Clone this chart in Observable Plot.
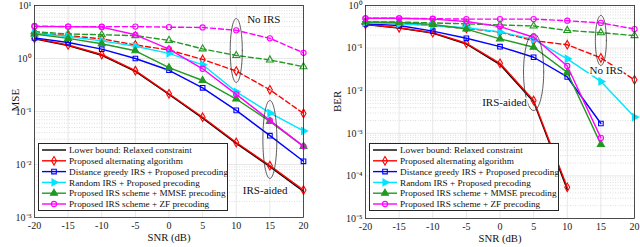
<!DOCTYPE html>
<html><head><meta charset="utf-8">
<script src="https://cdn.jsdelivr.net/npm/d3@7"></script>
<script src="https://cdn.jsdelivr.net/npm/@observablehq/plot@0.6"></script>
<style>
body{margin:0;background:#fff;font-family:"Liberation Serif",serif;}
#wrap{display:flex;width:640px;height:247px;}
.panel{position:relative;width:320px;height:247px;}
.legend{position:absolute;background:#fff;border:1px solid #262626;box-sizing:border-box;}
svg text{font-family:"Liberation Serif",serif;}
</style></head>
<body><div id="wrap"></div>
<script>
// ---------------- data ----------------
const snr = [-20, -15, -10, -5, 0, 5, 10, 15, 20];
const legendLabels = [
  "Lower bound: Relaxed constraint",
  "Proposed alternating algorithm",
  "Distance greedy IRS + Proposed precoding",
  "Random IRS + Proposed precoding",
  "Proposed IRS scheme + MMSE precoding",
  "Proposed IRS scheme + ZF precoding"
];
// MSE panel
const mseLower   = [2.35, 1.75, 1.15, 0.57, 0.21, 0.075, 0.025, 0.0091, 0.0031];
const mseAlt     = [2.4, 1.8, 1.19, 0.59, 0.216, 0.078, 0.026, 0.0095, 0.0033];
const mseGreedy  = [2.45, 2.0, 1.5, 1.0, 0.6, 0.28, 0.105, 0.035, 0.0115];
const mseRandom  = [3.0, 2.6, 2.15, 1.7, 1.25, 0.76, 0.235, 0.094, 0.043];
const mseMmse    = [2.9, 2.4, 1.9, 1.4, 0.67, 0.385, 0.172, 0.065, 0.022];
const mseZf      = [4.0, 4.0, 3.9, 2.8, 1.5, 0.64, 0.21, 0.068, 0.022];
const mseNoAlt   = [3.05, 2.7, 2.35, 1.8, 1.45, 0.96, 0.58, 0.257, 0.092];
const mseNoMmse  = [3.2, 2.9, 2.8, 2.7, 2.2, 1.52, 1.14, 0.94, 0.70];
const mseNoZf    = [4.1, 4.0, 4.0, 4.0, 3.9, 3.85, 3.4, 2.4, 1.28];
// BER panel
const berLower   = [0.355, 0.295, 0.225, 0.125, 0.041, 0.0055, 0.000048];
const berAlt     = [0.36, 0.30, 0.23, 0.13, 0.044, 0.0059, 0.000054];
const berGreedy  = [0.37, 0.34, 0.25, 0.17, 0.108, 0.061, 0.021, 0.0017];
const berRandom  = [0.40, 0.37, 0.34, 0.30, 0.24, 0.16, 0.056, 0.0165, 0.0024];
const berMmse    = [0.41, 0.40, 0.36, 0.28, 0.165, 0.105, 0.027, 0.00055];
const berZf      = [0.50, 0.50, 0.48, 0.42, 0.32, 0.18, 0.038, 0.00078];
const berNoAlt   = [0.41, 0.38, 0.34, 0.29, 0.237, 0.15, 0.12, 0.059, 0.018];
const berNoMmse  = [0.41, 0.41, 0.39, 0.37, 0.35, 0.33, 0.26, 0.23, 0.197];
const berNoZf    = [0.50, 0.50, 0.49, 0.48, 0.48, 0.48, 0.44, 0.39, 0.28];

const mseTicks = [1e-3, 1e-2, 1e-1, 1, 10];
const berTicks = [1e-5, 1e-4, 1e-3, 1e-2, 1e-1, 1];

const colors = {black:"#000000", red:"#ff0000", blue:"#0000ff", cyan:"#00e5ff", green:"#229922", magenta:"#ff00ff"};
const FONT = '"Liberation Serif",serif';

// ---------------- helpers ----------------
const triRight = {draw(ctx, size){
  const s3 = Math.sqrt(3), y = -Math.sqrt(size/(s3*3));
  ctx.moveTo(-2*y, 0); ctx.lineTo(y, -s3*y); ctx.lineTo(y, s3*y); ctx.closePath();
}};
const rows = vals => vals.map((v,i)=>({x: snr[i], y: v}));
const sup = {"-":"\u207B","0":"\u2070","1":"\u00B9","2":"\u00B2","3":"\u00B3","4":"\u2074","5":"\u2075"};
const fmtPow = v => "10" + String(Math.round(Math.log10(v))).split("").map(c=>sup[c]).join("");

function ellipse(cx, rx, cyLog, ryLog){
  const pts = [];
  for (let i=0;i<=72;i++){ const t = i/72*2*Math.PI; pts.push({x: cx + rx*Math.cos(t), y: Math.pow(10, cyLog + ryLog*Math.sin(t))}); }
  return pts;
}

const styleOf = [
  {color: colors.black, symbol: null, fill: "none"},
  {color: colors.red, symbol: "diamond", fill: "none"},
  {color: colors.blue, symbol: "square", fill: "none"},
  {color: colors.cyan, symbol: triRight, fill: colors.cyan},
  {color: colors.green, symbol: "triangle", fill: colors.green},
  {color: colors.magenta, symbol: "circle", fill: "none"}
];

function seriesMarks(vals, st, dashed){
  const d = rows(vals);
  const m = [Plot.line(d, {x:"x", y:"y", stroke: st.color, strokeWidth: 1.4, strokeDasharray: dashed ? "5,3" : null})];
  if (st.symbol) m.push(Plot.dot(d, {x:"x", y:"y", symbol: st.symbol, r: 2.6, stroke: st.color, strokeWidth: 1.1, fill: dashed ? "none" : st.fill}));
  return m;
}

function panel(cfg){
  const [lo, hi] = cfg.ydomain;
  const minor = [];
  for (let e=Math.round(Math.log10(lo)); e<Math.round(Math.log10(hi)); e++) for (let k=2;k<=9;k++) minor.push(k*Math.pow(10,e));
  const marks = [
    Plot.ruleY(minor, {stroke:"#c8c8c8", strokeWidth:0.6, strokeDasharray:"1,1.5"}),
    Plot.ruleY(cfg.yticks, {stroke:"#dcdcdc", strokeWidth:0.7}),
    Plot.ruleX(snr, {stroke:"#dcdcdc", strokeWidth:0.7}),
    Plot.axisX({ticks: snr, tickSize: 0, tickPadding: 4, label: null, tickFormat: d => String(d), fontSize: 10}),
    Plot.axisY({ticks: cfg.yticks, tickSize: 0, tickPadding: 3, label: null, tickFormat: fmtPow, fontSize: 10})
  ];
  cfg.noIrs.forEach(([vals, idx]) => marks.push(...seriesMarks(vals, styleOf[idx], true)));
  cfg.series.forEach((vals, idx) => marks.push(...seriesMarks(vals, styleOf[idx], false)));
  cfg.ellipses.forEach(e => marks.push(Plot.line(ellipse(...e), {x:"x", y:"y", stroke:"#333", strokeWidth:0.8})));
  marks.push(Plot.text(cfg.notes, {x:"x", y:"y", text:"t", fontSize: 11, fill:"#111", stroke:"white", strokeWidth: 3, paintOrder:"stroke"}));
  marks.push(Plot.frame({stroke:"#262626", strokeWidth: 0.8}));
  marks.push(Plot.text([cfg.ylabel], {frameAnchor:"left", dx: cfg.ylabelDx, rotate: -90, fontSize: 11, fill:"#111"}));
  marks.push(Plot.text(["SNR (dB)"], {frameAnchor:"bottom", dy: 23.5, fontSize: 10.7, fill:"#111"}));
  return Plot.plot({
    width: 320, height: 247,
    marginLeft: cfg.ml, marginRight: cfg.mr, marginTop: 5, marginBottom: cfg.mb,
    x: {domain: [-20, 20]},
    y: {type: "log", domain: cfg.ydomain},
    style: {fontFamily: FONT, fontSize: "10px", color: "#222", background: "transparent", overflow: "visible"},
    marks
  });
}

function legend(left, top){
  const W = 190, H = 68;
  const div = document.createElement("div");
  div.className = "legend";
  div.style.left = left + "px"; div.style.top = top + "px";
  div.style.width = W + "px"; div.style.height = H + "px";
  const svg = d3.select(div).append("svg").attr("width", W-2).attr("height", H-2).style("display","block");
  legendLabels.forEach((lab, i) => {
    const st = styleOf[i];
    const cy = 6 + i*10.8;
    const g = svg.append("g").attr("transform", `translate(0,${cy})`);
    g.append("line").attr("x1", 3).attr("x2", 27).attr("stroke", st.color).attr("stroke-width", 1.4);
    if (st.symbol) {
      const typ = typeof st.symbol === "string" ? {diamond: d3.symbolDiamond, square: d3.symbolSquare, triangle: d3.symbolTriangle, circle: d3.symbolCircle}[st.symbol] : st.symbol;
      g.append("path").attr("transform","translate(15,0)").attr("d", d3.symbol(typ, 2.6*2.6*Math.PI)())
        .attr("stroke", st.color).attr("stroke-width", 1.1).attr("fill", st.fill);
    }
    g.append("text").attr("x", 30).attr("y", 0).attr("dy", "0.34em").attr("font-size", 9.2)
      .attr("fill", "#111").text(lab);
  });
  return div;
}

const wrap = document.getElementById("wrap");

const p1 = document.createElement("div"); p1.className = "panel";
p1.appendChild(panel({
  ydomain: [1e-3, 10], yticks: mseTicks, ylabel: "MSE", ylabelDx: -19,
  ml: 34, mr: 17, mb: 30,
  series: [mseLower, mseAlt, mseGreedy, mseRandom, mseMmse, mseZf],
  noIrs: [[mseNoAlt, 1], [mseNoMmse, 4], [mseNoZf, 5]],
  ellipses: [[10, 0.9, 0.151, 0.604], [15, 1.04, -1.528, 0.736]],
  notes: [{x: 14.1, y: Math.pow(10, 0.736), t: "No IRS"}, {x: 14.3, y: Math.pow(10, -2.49), t: "IRS-aided"}]
}));
p1.appendChild(legend(38, 143));
wrap.appendChild(p1);

const p2 = document.createElement("div"); p2.className = "panel";
p2.appendChild(panel({
  ydomain: [1e-5, 1], yticks: berTicks, ylabel: "BER", ylabelDx: -28,
  ml: 45, mr: 6, mb: 29,
  series: [berLower, berAlt, berGreedy, berRandom, berMmse, berZf],
  noIrs: [[berNoAlt, 1], [berNoMmse, 4], [berNoZf, 5]],
  ellipses: [[5, 1.5, -1.561, 0.904], [15, 0.82, -0.82, 0.587]],
  notes: [{x: 0.67, y: Math.pow(10, -2.277), t: "IRS-aided"}, {x: 15.8, y: Math.pow(10, -1.526), t: "No IRS"}]
}));
p2.appendChild(legend(49, 143));
wrap.appendChild(p2);
</script></body></html>
